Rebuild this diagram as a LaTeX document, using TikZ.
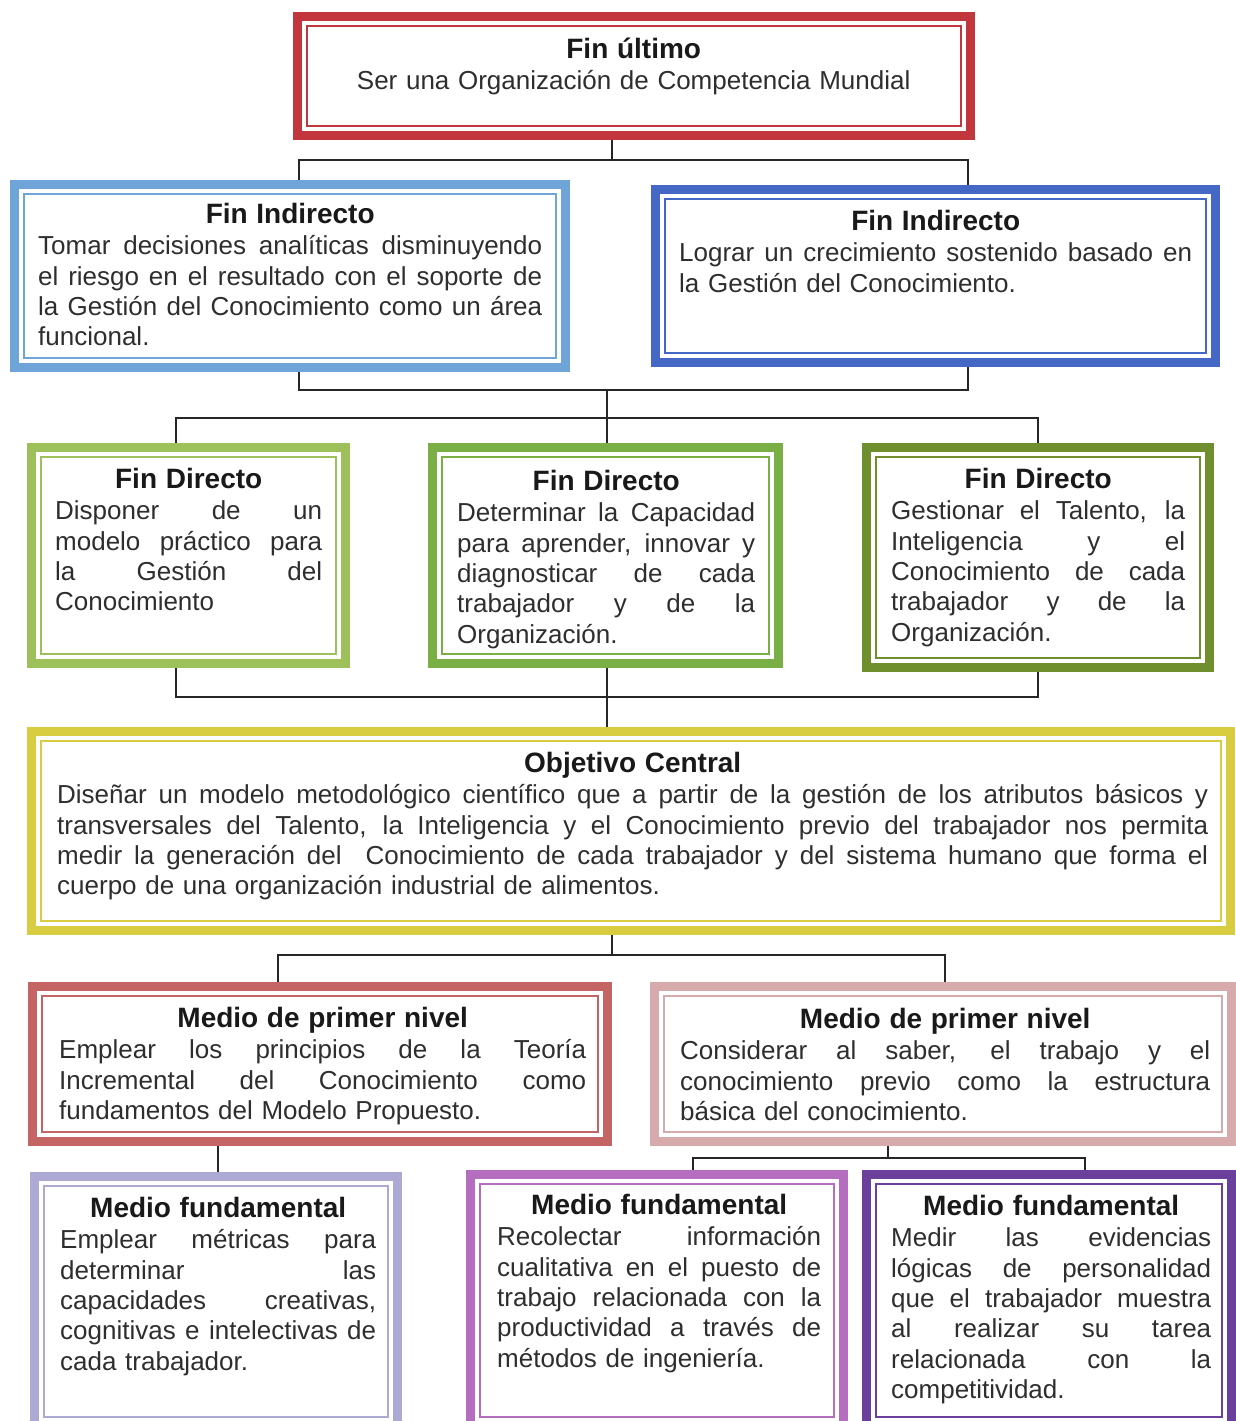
\documentclass[tikz,border=0pt]{standalone}
\usepackage{fontspec}
\setmainfont{Liberation Sans}
\usetikzlibrary{calc,backgrounds}
\definecolor{cA}{HTML}{C2373E}
\definecolor{cB}{HTML}{6FA4D8}
\definecolor{cC}{HTML}{4567C5}
\definecolor{cD}{HTML}{9DC05A}
\definecolor{cE}{HTML}{7AAF45}
\definecolor{cF}{HTML}{6F8F2F}
\definecolor{cG}{HTML}{D8CC40}
\definecolor{cH}{HTML}{C46464}
\definecolor{cI}{HTML}{D7AAAC}
\definecolor{cJ}{HTML}{ADA9D5}
\definecolor{cK}{HTML}{B56EBF}
\definecolor{cL}{HTML}{6B3F9C}
\definecolor{txtgray}{HTML}{2E2E2E}
\newcommand\ebox[6]{%
  \node[boxo, draw=#2, minimum width={#5-#3-9}, minimum height={#6-#4-9}] (#1) at ({(#3+#5)/2},{(#4+#6)/2}) {};
  \draw[draw=#2, line width=1.8pt] ([shift={(9.5,9.5)}]#1.north west) rectangle ([shift={(-9.5,-9.5)}]#1.south east);
}
\newcommand\jl[1]{\makebox[\hsize][s]{\spaceskip=0pt\xspaceskip=0pt #1}\\}
\newcommand\ttlfont{\fontsize{28}{30.4}\selectfont\bfseries\color{black!90}}
\newcommand\tbox[6]{%
  \node[txt, text width=#4, anchor=north west] (#1) at (#2,#3) {\makebox[\hsize]{\ttlfont\rule{0pt}{25pt}#5}\\[1pt]#6};
}
\begin{document}
\begin{tikzpicture}[x=1pt,y=-1pt,
  conn/.style={draw=black!85, line width=2pt},
  boxo/.style={rectangle, fill=white, line width=9pt, inner sep=0pt, outer sep=0pt},
  txt/.style={inner sep=0pt, align=left, text=txtgray, font=\fontsize{26}{30.4}\selectfont, execute at begin node={\parindent=0pt}}]
\useasboundingbox (0,0) rectangle (1236,1421);
\clip (0,0) rectangle (1236,1421);

% boxes
\ebox{A}{cA}{293}{12}{975}{140}
\ebox{B}{cB}{10}{180}{570}{372}
\ebox{C}{cC}{651}{185}{1220}{367}
\ebox{D}{cD}{27}{443}{350}{668}
\ebox{E}{cE}{428}{443}{783}{668}
\ebox{F}{cF}{862}{443}{1214}{672}
\ebox{G}{cG}{27}{727}{1235}{935}
\ebox{H}{cH}{28}{982}{612}{1146}
\ebox{I}{cI}{650}{982}{1236}{1146}
\ebox{J}{cJ}{30}{1172}{402}{1431}
\ebox{K}{cK}{466}{1170}{848}{1431}
\ebox{L}{cL}{862}{1170}{1236}{1431}

% texts
\tbox{At}{356}{33}{555}{Fin último}{\makebox[\hsize]{Ser una Organización de Competencia Mundial}}
\tbox{Bt}{38}{198}{504}{Fin Indirecto}{\jl{Tomar decisiones analíticas disminuyendo}\jl{el riesgo en el resultado con el soporte de}\jl{la Gestión del Conocimiento como un área}funcional.}
\tbox{Ct}{679}{205}{513}{Fin Indirecto}{\jl{Lograr un crecimiento sostenido basado en}la Gestión del Conocimiento.}
\tbox{Dt}{55}{463}{267}{Fin Directo}{\jl{Disponer de un}\jl{modelo práctico para}\jl{la Gestión del}Conocimiento}
\tbox{Et}{457}{465}{298}{Fin Directo}{\jl{Determinar la Capacidad}\jl{para aprender, innovar y}\jl{diagnosticar de cada}\jl{trabajador y de la}Organización.}
\tbox{Ft}{891}{463}{294}{Fin Directo}{\jl{Gestionar el Talento, la}\jl{Inteligencia y el}\jl{Conocimiento de cada}\jl{trabajador y de la}Organización.}
\tbox{Gt}{57}{747}{1151}{Objetivo Central}{\jl{Diseñar un modelo metodológico científico que a partir de la gestión de los atributos básicos y}\jl{transversales del Talento, la Inteligencia y el Conocimiento previo del trabajador nos permita}\jl{medir la generación del\ \ Conocimiento de cada trabajador y del sistema humano que forma el}cuerpo de una organización industrial de alimentos.}
\tbox{Ht}{59}{1002}{527}{Medio de primer nivel}{\jl{Emplear los principios de la Teoría}\jl{Incremental del Conocimiento como}fundamentos del Modelo Propuesto.}
\tbox{It}{680}{1003}{530}{Medio de primer nivel}{\jl{Considerar al saber, el trabajo y el}\jl{conocimiento previo como la estructura}básica del conocimiento.}
\tbox{Jt}{60}{1192}{316}{Medio fundamental}{\jl{Emplear métricas para}\jl{determinar las}\jl{capacidades creativas,}\jl{cognitivas e intelectivas de}cada trabajador.}
\tbox{Kt}{497}{1189}{324}{Medio fundamental}{\jl{Recolectar información}\jl{cualitativa en el puesto de}\jl{trabajo relacionada con la}\jl{productividad a través de}métodos de ingeniería.}
\tbox{Lt}{891}{1190}{320}{Medio fundamental}{\jl{Medir las evidencias}\jl{lógicas de personalidad}\jl{que el trabajador muestra}\jl{al realizar su tarea}\jl{relacionada con la}competitividad.}

% connectors
\begin{pgfonlayer}{background}
\coordinate (j1) at (612,160);
\coordinate (h1l) at (299,160);
\coordinate (h1r) at (968,160);
\draw[conn] (j1 |- A.south) -- (j1);
\draw[conn] (h1l |- B.north) -- (h1l) -- (h1r) -- (h1r |- C.north);
\coordinate (h2l) at (299,390);
\coordinate (h2r) at (968,390);
\coordinate (j2) at (607,390);
\coordinate (h3l) at (176,418);
\coordinate (h3m) at (607,418);
\coordinate (h3r) at (1038,418);
\draw[conn] (h2l |- B.south) -- (h2l) -- (h2r) -- (h2r |- C.south);
\draw[conn] (j2) -- (h3m);
\draw[conn] (h3l |- D.north) -- (h3l) -- (h3r) -- (h3r |- F.north);
\draw[conn] (h3m) -- (h3m |- E.north);
\coordinate (h4l) at (176,697);
\coordinate (h4m) at (607,697);
\coordinate (h4r) at (1038,697);
\draw[conn] (h4l |- D.south) -- (h4l) -- (h4r) -- (h4r |- F.south);
\draw[conn] (h4m |- E.south) -- (h4m |- G.north);
\coordinate (j5) at (612,955);
\coordinate (h5l) at (278,955);
\coordinate (h5r) at (945,955);
\draw[conn] (j5 |- G.south) -- (j5);
\draw[conn] (h5l |- H.north) -- (h5l) -- (h5r) -- (h5r |- I.north);
\coordinate (v6) at (218,1160);
\draw[conn] (v6 |- H.south) -- (v6 |- J.north);
\coordinate (j6) at (888,1158);
\coordinate (h6l) at (693,1158);
\coordinate (h6r) at (1085,1158);
\draw[conn] (j6 |- I.south) -- (j6);
\draw[conn] (h6l |- K.north) -- (h6l) -- (h6r) -- (h6r |- L.north);
\end{pgfonlayer}
\end{tikzpicture}
\end{document}
